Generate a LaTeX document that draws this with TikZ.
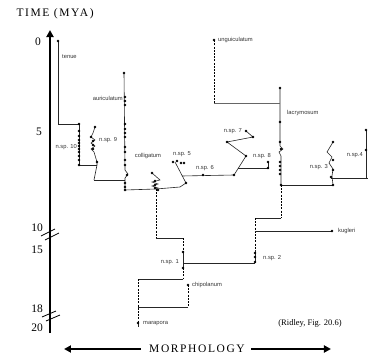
\documentclass[tikz,border=0pt]{standalone}
\usepackage{fontspec}
\setmainfont{Liberation Serif}
\newfontfamily\taxfont{Liberation Sans}
\newfontfamily\capsfont[LetterSpace=14]{Liberation Serif}
\usetikzlibrary{arrows.meta, positioning}

\begin{document}
\begin{tikzpicture}[
  x=1pt, y=-1pt,
  taxon/.style={font=\fontsize{5.8}{7}\selectfont\taxfont, text=black!80, inner sep=1pt},
  tick/.style={font=\fontsize{11.5}{12}\selectfont, inner sep=0pt, anchor=east},
  lin/.style={line width=0.6pt, black!85},
  gap/.style={line width=0.75pt, dash pattern=on 2pt off 1.2pt},
  blob/.style={circle, fill=black, inner sep=0pt, minimum size=2.6pt},
  bigarrow/.style={-{Triangle[length=7pt, width=7pt]}, line width=2pt}
]
\useasboundingbox (0,0) rectangle (368,359);

% time axis
\coordinate (axtop) at (50,30);
\coordinate (axbot) at (50,333);
\draw[bigarrow] (axbot) -- (axtop);
\node[font=\fontsize{11.5}{12}\selectfont\capsfont, anchor=west] (tlabel) at (13,14) {TIME (MYA)};
\node[tick] (t0) at (41,42) {0};
\node[tick] (t5) at (42,132) {5};
\node[tick] (t10) at (43,228) {10};
\node[tick] (t15) at (43,250) {15};
\node[tick] (t18) at (43,309) {18};
\node[tick] (t20) at (43,328) {20};
\foreach \y in {0,4} {
  \draw[line width=0.8pt] (41+\y,236+\y) -- (55+\y,229+\y);
  \draw[line width=0.8pt] (42+\y,317+\y) -- (56+\y,311+\y);
}

% morphology axis
\node[font=\fontsize{11.5}{12}\selectfont\capsfont] (morph) at (197,349) {MORPHOLOGY};
\coordinate (mleft) at (64,349);
\coordinate (mright) at (331,349);
\draw[bigarrow] ([xshift=-5pt]morph.west) -- (mleft);
\draw[bigarrow] ([xshift=3pt]morph.east) -- (mright);
\node[font=\fontsize{8.5}{10}\selectfont] (src) at (310,323) {(Ridley, Fig. 20.6)};

% tenue, n.sp. 10, n.sp. 9
\coordinate (tenue) at (58,41);
\coordinate (tenuebase) at (58,124);
\coordinate (n10top) at (79,124);
\coordinate (n10base) at (79,165);
\coordinate (n9base) at (97,165);
\coordinate (n9join) at (94,180);
\draw[lin] (tenue) -- (tenuebase) -- (n10top) -- (n10base) -- (n9base);
\draw[lin] (n9base) -- (97,162) -- (94,152) -- (91,149) -- (95,146) -- (91,143)
  -- (95,140) -- (91,137) -- (93,133) -- (95,127);
\draw[lin] (n9base) -- (n9join);
\node[taxon, anchor=west] (ltenue) at (61,57) {tenue};
\node[taxon, left=1pt of n10base, yshift=18pt] (ln10) {n.sp. 10};
\node[taxon, anchor=west] (ln9) at (98,140) {n.sp. 9};

% auriculatum
\coordinate (auri) at (124,73);
\coordinate (auribase) at (125,190);
\draw[lin] (n9join) -- (125,180);
\draw[lin] (auri) -- (125,170) -- (128,174) -- (125,178) -- (auribase);
\node[taxon, anchor=east] (lauri) at (124,98) {auriculatum};

% colligatum, n.sp. 5, n.sp. 6
\coordinate (colltop) at (152,173);
\coordinate (collbase) at (156,189);
\coordinate (n5base) at (180,187);
\coordinate (n5kink) at (186,183);
\coordinate (n5top) at (175,162);
\coordinate (n6root) at (182,176);
\coordinate (n6end) at (234,175);
\draw[lin] (auribase) -- (collbase);
\draw[lin] (colltop) -- (160,180) -- (152,182) -- (158,184) -- (152,186) -- (158,188) -- (collbase);
\draw[lin] (collbase) -- (n5base) -- (n5kink) -- (n5top);
\draw[lin] (n6root) -- (n6end);
\node[taxon] (lcoll) at (148,156) {colligatum};
\node[taxon] (ln5) at (182,154) {n.sp. 5};
\node[taxon] (ln6) at (205,168) {n.sp. 6};

% n.sp. 7, n.sp. 8
\coordinate (n8root) at (238,168);
\coordinate (n8end) at (268,168);
\draw[lin] (n6end) -- (246,156) -- (227,142) -- (253,137) -- (246,131);
\draw[lin] (n8root) -- (n8end) -- (268,162);
\node[taxon, anchor=east] (ln7) at (243,131) {n.sp. 7};
\node[taxon] (ln8) at (262,156) {n.sp. 8};

% lacrymosum and unguiculatum
\coordinate (lacr) at (280,88);
\coordinate (lacrbase) at (281,185);
\coordinate (ungu) at (214,40);
\coordinate (ungubase) at (214,103);
\draw[lin] (lacr) -- (280,146) -- (283,149) -- (279,152) -- (281,156) -- (lacrbase);
\draw[lin, black!60] (ungubase) -- (280,103);
\draw[gap] (ungubase) -- (ungu);
\node[taxon, right=3pt of ungu] (lungu) {unguiculatum};
\node[taxon, anchor=west] (llacr) at (286,113) {lacrymosum};

% n.sp. 3, n.sp. 4
\coordinate (n3base) at (333,185);
\coordinate (n4end) at (368,178);
\draw[lin] (lacrbase) -- (n3base);
\draw[lin] (n3base) -- (332,176) -- (333,169) -- (329,163) -- (332,157) -- (327,152) -- (333,142);
\draw[lin] (331,178) -- (n4end);
\draw[lin] (366,130) -- (366,178);
\node[taxon, anchor=east] (ln3) at (329,167) {n.sp. 3};
\node[taxon, anchor=east] (ln4) at (364,155) {n.sp.4};

% kugleri, n.sp. 2
\coordinate (stem1) at (281,218);
\coordinate (stem2) at (255,218);
\coordinate (kug) at (332,231);
\coordinate (n2) at (255,263);
\draw[gap] (lacrbase) -- (stem1);
\draw[lin] (stem1) -- (stem2);
\draw[gap] (stem2) -- (255,250);
\draw[lin] (255,250) -- (n2);
\draw[lin] (255,231) -- (kug);
\node[taxon, right=5pt of kug] (lkug) {kugleri};
\node[taxon, anchor=west] (ln2) at (262,258) {n.sp. 2};

% n.sp. 1, colligatum stem
\coordinate (n1top) at (183,252);
\coordinate (n1base) at (183,268);
\draw[lin] (n2) -- (183,263);
\draw[lin] (n1top) -- (n1base);
\draw[gap] (183,238) -- (n1top);
\draw[lin] (156,238) -- (183,238);
\draw[gap] (collbase) -- (156,238);
\node[taxon, anchor=east] (ln1) at (180,262) {n.sp. 1};

% chipolanum, marapora
\coordinate (chip) at (188,285);
\coordinate (mara) at (138,323);
\draw[gap] (n1base) -- (183,279);
\draw[lin] (138,279) -- (183,279);
\draw[gap] (138,279) -- (mara);
\draw[lin] (mara) -- (138,327);
\draw[gap] (chip) -- (188,307);
\draw[lin] (138,307) -- (188,307);
\node[taxon, right=3pt of chip] (lchip) {chipolanum};
\node[taxon, right=4pt of mara, yshift=-1pt] (lmara) {marapora};

% fossil samples
\foreach \x/\y in {58/41, 79/124, 79/131, 79/136, 79/140, 79/143, 79/146, 79/149, 79/152,
  79/156, 79/160, 79/165, 95/127, 91/137, 93/141, 93/145, 93/149, 97/162,
  124/73, 125/97, 125/101, 125/105, 125/124, 125/129, 125/133, 125/137, 125/147,
  125/152, 125/160, 125/165, 127/175, 125/183, 125/187, 125/190,
  152/173, 155/181, 155/185, 155/188, 158/190,
  173/162, 177/161, 181/163, 184/163, 186/183, 203/175, 234/175,
  246/131, 253/137, 227/142, 246/156, 268/162, 268/168,
  214/40, 280/88, 280/122, 280/142, 281/149, 280/162, 280/166, 280/170, 280/174, 281/185,
  333/142, 333/160, 333/170, 331/177, 333/185, 366/130, 366/150,
  332/231, 255/253, 255/257, 255/262, 183/252, 183/268, 188/285, 138/323} {
  \node[blob] at (\x,\y) {};
}
\end{tikzpicture}
\end{document}
